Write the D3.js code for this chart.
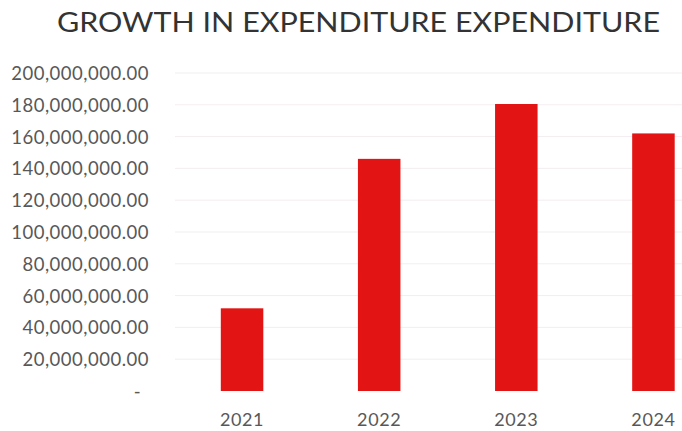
<!DOCTYPE html>
<html>
<head>
<meta charset="utf-8">
<script src="https://cdn.jsdelivr.net/npm/d3@7/dist/d3.min.js"></script>
<style>
  html, body { margin: 0; padding: 0; background: #fff; }
  svg { display: block; }
</style>
</head>
<body>
<svg id="chart" width="682" height="431"></svg>
<script>
// Annual expenditure
const years = ["2021", "2022", "2023", "2024"];
const expenditure = [52000000, 146000000, 180500000, 162000000];
const yTicks = [0, 20000000, 40000000, 60000000, 80000000, 100000000,
                120000000, 140000000, 160000000, 180000000, 200000000];
const title = "GROWTH IN EXPENDITURE EXPENDITURE";

const svg = d3.select("#chart");
const font = "Lato, 'Open Sans', 'DejaVu Sans', sans-serif";

const x = d3.scaleBand().domain(years).range([173.5, 722]).paddingInner(0.69).paddingOuter(0.345);
const y = d3.scaleLinear().domain([0, 200000000]).range([391, 73]);

// faint horizontal gridlines
svg.append("g")
  .selectAll("line")
  .data(yTicks.slice(1))
  .join("line")
  .attr("x1", 175).attr("x2", 682)
  .attr("y1", d => y(d)).attr("y2", d => y(d))
  .attr("stroke", "#f3edf1").attr("stroke-width", 1);

// y axis labels (accounting style, zero shown as a dash)
const fmt = d3.format(",.2f");
const yAxis = d3.axisLeft(y).tickValues(yTicks).tickSize(0).tickPadding(0)
  .tickFormat(d => d === 0 ? "-" : fmt(d));
svg.append("g")
  .attr("transform", "translate(149,0)")
  .call(yAxis)
  .call(g => g.select(".domain").remove())
  .call(g => g.selectAll("text")
    .attr("font-family", font).attr("font-size", 18.5)
    .attr("letter-spacing", "0.5px")
    .attr("fill", "#585858").attr("dy", "0.35em")
    .attr("dx", d => d === 0 ? -8 : 0));

// bars
svg.append("g")
  .selectAll("rect")
  .data(years.map((k, i) => ({ k, v: expenditure[i] })))
  .join("rect")
  .attr("x", d => x(d.k))
  .attr("width", x.bandwidth())
  .attr("y", d => y(d.v))
  .attr("height", d => y(0) - y(d.v))
  .attr("fill", "#e31414");

// x axis labels
const xAxis = d3.axisBottom(x).tickSize(0).tickPadding(0);
svg.append("g")
  .attr("transform", "translate(0,420)")
  .call(xAxis)
  .call(g => g.select(".domain").remove())
  .call(g => g.selectAll("text")
    .attr("font-family", font).attr("font-size", 18)
    .attr("letter-spacing", "0.6px")
    .attr("fill", "#585858").attr("dy", "0.35em"));

// title
svg.append("text")
  .attr("x", 57).attr("y", 32)
  .attr("font-family", font).attr("font-size", 27)
  .attr("fill", "#333")
  .attr("textLength", 603).attr("lengthAdjust", "spacingAndGlyphs")
  .text(title);
</script>
</body>
</html>
